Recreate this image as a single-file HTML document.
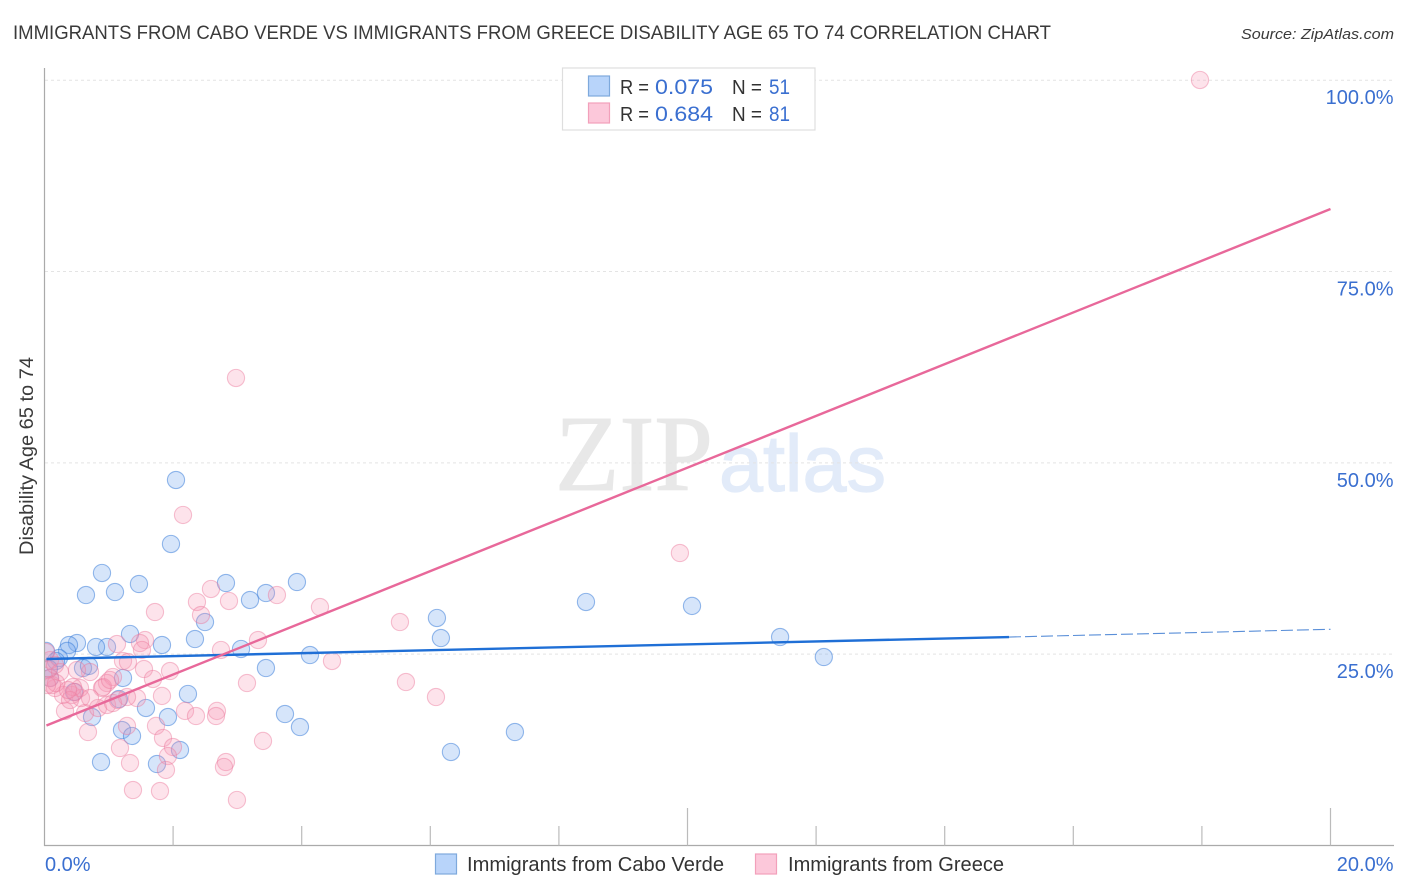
<!DOCTYPE html>
<html lang="en">
<head>
<meta charset="utf-8">
<title>Immigrants from Cabo Verde vs Immigrants from Greece Disability Age 65 to 74 Correlation Chart</title>
<style>
html,body{margin:0;padding:0;background:#fff;}
svg{display:block;font-family:"Liberation Sans",sans-serif;}
</style>
</head>
<body>
<svg id="chart" xmlns="http://www.w3.org/2000/svg" width="1406" height="892" viewBox="0 0 1406 892">
  <defs>
    <clipPath id="plot-clip"><rect x="45" y="60" width="1349" height="785"/></clipPath>
  </defs>
  <rect x="0" y="0" width="1406" height="892" fill="#ffffff"/>
  <text x="13" y="39" font-size="19.5" fill="#3a3a3a" textLength="1038" lengthAdjust="spacingAndGlyphs">IMMIGRANTS FROM CABO VERDE VS IMMIGRANTS FROM GREECE DISABILITY AGE 65 TO 74 CORRELATION CHART</text>
  <text x="1241" y="39" font-size="15" font-style="italic" fill="#3a3a3a" textLength="153" lengthAdjust="spacingAndGlyphs">Source: ZipAtlas.com</text>

  <text x="555" y="490" font-family="'Liberation Serif',serif" font-size="108" fill="#e8e8e8" stroke="#e8e8e8" stroke-width="1" textLength="158" lengthAdjust="spacingAndGlyphs">ZIP</text>
  <text x="719" y="491" font-size="80" fill="#e2ebf9" stroke="#e2ebf9" stroke-width="1.2" textLength="167" lengthAdjust="spacingAndGlyphs">atlas</text>

  <g id="grid"></g>
  <g id="points" clip-path="url(#plot-clip)"></g>
  <g id="trends"></g>
  <g id="axes">
    <line x1="44.5" y1="68" x2="44.5" y2="846" stroke="#aaa" stroke-width="1.2"/>
    <line x1="44" y1="845.5" x2="1394" y2="845.5" stroke="#aaa" stroke-width="1.2"/>
  </g>
  <g id="labels"></g>

  <text transform="translate(33,555) rotate(-90)" x="0" y="0" font-size="19" fill="#3a3a3a" textLength="198" lengthAdjust="spacingAndGlyphs">Disability Age 65 to 74</text>

  <g>
    <rect x="562.5" y="68" width="252.5" height="62" fill="#fff" stroke="#dedede" stroke-width="1.2"/>
    <rect x="588.5" y="76" width="21" height="20" fill="#b8d4fa" stroke="#7ea9dc" stroke-width="1.2"/>
    <rect x="588.5" y="103" width="21" height="20" fill="#fcc8da" stroke="#f2a0bb" stroke-width="1.2"/>
    <text x="620" y="94" font-size="20" fill="#333" textLength="29" lengthAdjust="spacingAndGlyphs">R =</text>
    <text x="655" y="94" font-size="21" fill="#3a6fd0" textLength="58" lengthAdjust="spacingAndGlyphs">0.075</text>
    <text x="732" y="94" font-size="20" fill="#333" textLength="30" lengthAdjust="spacingAndGlyphs">N =</text>
    <text x="769" y="94" font-size="21" fill="#3a6fd0" textLength="21" lengthAdjust="spacingAndGlyphs">51</text>
    <text x="620" y="121" font-size="20" fill="#333" textLength="29" lengthAdjust="spacingAndGlyphs">R =</text>
    <text x="655" y="121" font-size="21" fill="#3a6fd0" textLength="58" lengthAdjust="spacingAndGlyphs">0.684</text>
    <text x="732" y="121" font-size="20" fill="#333" textLength="30" lengthAdjust="spacingAndGlyphs">N =</text>
    <text x="769" y="121" font-size="21" fill="#3a6fd0" textLength="21" lengthAdjust="spacingAndGlyphs">81</text>
  </g>

  <g>
    <rect x="435.5" y="854" width="21" height="20" fill="#b8d4fa" stroke="#7ea9dc" stroke-width="1.2"/>
    <text x="467" y="871" font-size="20" fill="#333" textLength="257" lengthAdjust="spacingAndGlyphs">Immigrants from Cabo Verde</text>
    <rect x="755.5" y="854" width="21" height="20" fill="#fcc8da" stroke="#f2a0bb" stroke-width="1.2"/>
    <text x="788" y="871" font-size="20" fill="#333" textLength="216" lengthAdjust="spacingAndGlyphs">Immigrants from Greece</text>
  </g>
</svg>
<script>
// Values
const xTickValues = [2, 4, 6, 8, 10, 12, 14, 16, 18, 20];
const xMajorTicks = [10, 20];
const xTickLabels = ["0.0%", "20.0%"];
const yTickValues = [25, 50, 75, 100];
const yTickLabels = ["25.0%", "50.0%", "75.0%", "100.0%"];

const caboVerdeX = [2.045,1.967,0.894,1.469,0.645,1.096,2.822,3.444,3.926,3.196,2.496,2.340,1.827,1.330,0.972,0.801,0.505,0.381,0.350,0.225,0.023,0.179,0.070,0.599,0.692,3.056,4.129,3.444,1.221,2.231,0.459,1.158,1.578,1.920,0.739,3.740,3.973,1.205,1.361,2.107,1.749,0.879,6.321,7.316,8.421,6.103,6.165,10.07,11.44,12.12,0.086];
const caboVerdeY = [47.76,39.40,35.61,34.17,32.73,33.12,34.30,32.99,34.43,32.08,29.20,26.98,26.20,27.64,25.94,25.94,26.46,26.20,25.42,24.50,25.42,24.11,23.07,23.19,23.46,25.68,24.89,23.19,21.89,19.80,20.06,19.14,17.97,16.79,16.79,17.18,15.48,15.09,14.31,12.48,10.65,10.91,12.22,14.83,31.82,29.73,27.11,31.30,27.24,24.63,21.89];

const greeceX = [17.97,2.978,2.154,9.882,2.589,1.718,2.371,2.869,3.615,4.284,2.434,5.528,3.320,1.563,1.485,1.127,2.745,4.471,5.621,6.088,1.221,1.547,1.952,0.708,3.149,1.827,1.687,1.438,1.283,1.065,0.972,0.894,2.185,2.356,2.682,2.667,1.734,1.843,1.283,0.676,1.174,1.330,1.998,1.920,1.889,1.376,1.796,2.822,2.791,2.993,3.398,0.319,0.630,0.832,0.972,1.065,0.568,0.428,0.288,0.163,0.552,0.910,0.086,0.054,0.117,0.086,0.443,0.241,0.023,1.019,0.474,0.397,1.143,0.179,0.505,1.516,1.298,0.163,0.365,0.708,0.039];
const greeceY = [100.03,61.09,43.19,38.22,33.52,30.51,31.82,31.95,32.73,31.16,30.12,29.20,26.85,26.85,26.46,26.33,25.55,24.11,21.36,19.40,24.11,23.06,22.80,22.67,21.23,19.54,21.76,19.27,19.40,22.02,21.23,20.58,17.58,16.92,17.58,16.92,15.62,14.05,15.62,14.83,12.74,10.78,12.87,11.69,9.87,7.25,7.12,10.91,10.26,5.95,13.66,17.58,17.31,17.97,18.36,18.62,19.27,19.67,19.67,20.58,20.58,20.71,21.89,22.93,20.97,24.24,20.71,22.67,25.28,21.63,20.06,19.01,19.01,21.23,22.93,25.55,23.97,23.59,20.32,19.27,20.97];

const caboVerdeTrendX = [0.03, 15];
const caboVerdeTrendY = [24.37, 27.24];
const caboVerdeDashX = [15, 20];
const caboVerdeDashY = [27.24, 28.25];
const greeceTrendX = [0.03, 20];
const greeceTrendY = [15.68, 83.17];

// Axis functions
const SVGNS = "http://www.w3.org/2000/svg";
function xScale(v) { return 44.5 + v * 64.3; }
function yScale(v) { return 845.5 - v * 7.653; }
function make(tag, attrs) {
  const el = document.createElementNS(SVGNS, tag);
  for (const k in attrs) el.setAttribute(k, attrs[k]);
  return el;
}

const gridG = document.getElementById("grid");
const axesG = document.getElementById("axes");
const labelsG = document.getElementById("labels");
const pointsG = document.getElementById("points");
const trendsG = document.getElementById("trends");

yTickValues.forEach(function (v, i) {
  const gy = yScale(v);
  const line = make("line", {x1: 45, y1: gy, x2: 1394, y2: gy, stroke: "#e4e4e4", "stroke-width": 1, "stroke-dasharray": "3 3"});
  
  
  gridG.appendChild(line);
  const t = make("text", {x: 1393.5, y: gy + 24, "font-size": 20, fill: "#3a6fd0", "text-anchor": "end"});
  
  
  t.textContent = yTickLabels[i];
  labelsG.appendChild(t);
});

xTickValues.forEach(function (v) {
  const major = xMajorTicks.indexOf(v) >= 0;
  const tx = xScale(v);
  const tick = make("line", {x1: tx, y1: major ? 808 : 826, x2: tx, y2: 845.5, stroke: "#bbb", "stroke-width": 1.2});
  
  
  axesG.appendChild(tick);
});

const xLabelLeft = make("text", {x: 45, y: 871, "font-size": 20, fill: "#3a6fd0"});


xLabelLeft.textContent = xTickLabels[0];
labelsG.appendChild(xLabelLeft);

const xLabelRight = make("text", {x: 1393.5, y: 871, "font-size": 20, fill: "#3a6fd0", "text-anchor": "end"});


xLabelRight.textContent = xTickLabels[1];
labelsG.appendChild(xLabelRight);

caboVerdeX.forEach(function (v, i) {
  const c = make("circle", {cx: xScale(v), cy: yScale(caboVerdeY[i]), r: 8.6, fill: "rgba(120,170,240,0.3)", stroke: "rgba(50,120,215,0.5)", "stroke-width": 1.1});
  
  
  pointsG.appendChild(c);
});

greeceX.forEach(function (v, i) {
  const c = make("circle", {cx: xScale(v), cy: yScale(greeceY[i]), r: 8.6, fill: "rgba(248,150,180,0.27)", stroke: "rgba(235,120,155,0.45)", "stroke-width": 1.1});
  
  
  pointsG.appendChild(c);
});

const blueTrend = make("line", {x1: xScale(caboVerdeTrendX[0]), y1: yScale(caboVerdeTrendY[0]), x2: xScale(caboVerdeTrendX[1]), y2: yScale(caboVerdeTrendY[1]), stroke: "#1f6fd6", "stroke-width": 2.4});


trendsG.appendChild(blueTrend);

const blueDash = make("line", {x1: xScale(caboVerdeDashX[0]), y1: yScale(caboVerdeDashY[0]), x2: xScale(caboVerdeDashX[1]), y2: yScale(caboVerdeDashY[1]), stroke: "#5a8fd8", "stroke-width": 1.1, "stroke-dasharray": "12 4"});


trendsG.appendChild(blueDash);

const pinkTrend = make("line", {x1: xScale(greeceTrendX[0]), y1: yScale(greeceTrendY[0]), x2: xScale(greeceTrendX[1]), y2: yScale(greeceTrendY[1]), stroke: "#e8689a", "stroke-width": 2.4});


trendsG.appendChild(pinkTrend);
</script>
</body>
</html>
